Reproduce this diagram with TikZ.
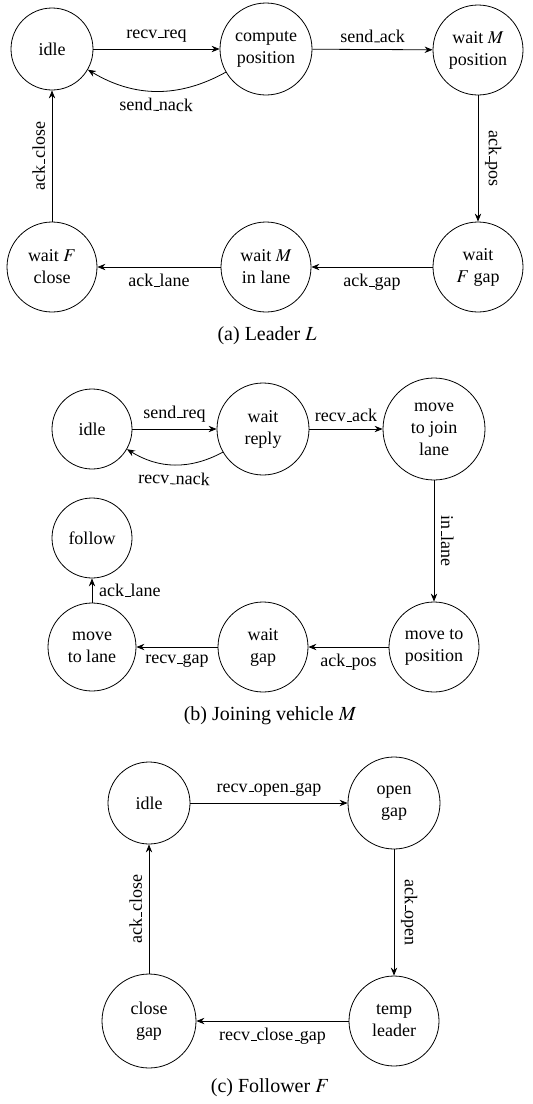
\documentclass[tikz,border=0pt]{standalone}
\usepackage{mathptmx}
\usepackage{fontspec}
\setmainfont{Liberation Serif}
\usetikzlibrary{arrows.meta, positioning}

% narrow underscore, as in plain LaTeX
\newcommand{\usc}{\leavevmode\kern.06em\vbox{\hrule width .3em}}

\begin{document}
\begin{tikzpicture}[x=0.5pt, y=-0.5pt, auto, >={Stealth[length=4pt, width=3.2pt]},
		state/.style={draw, circle, align=center, minimum size=45pt, inner sep=1pt, font=\fontsize{9}{11}\selectfont},
		msg/.style={font=\fontsize{9}{11}\selectfont},
		trans/.style={msg, sloped},
		caption/.style={font=\fontsize{10}{12}\selectfont}]
		\useasboundingbox (0,0) rectangle (532,1104);

		% Leader
		\begin{scope}
			\node (l_idle) at (52,49) [state, minimum size=41pt] {idle};
			\node (l_comp) at (266,49) [state, minimum size=46pt] {compute\\position};
			\node (l_wmpos) at (478,50) [state] {wait $M$\\position};
			\node (l_wfgap) at (478,267) [state] {wait\\$F$ gap};
			\node (l_wmlane) at (266,267) [state] {wait $M$\\in lane};
			\node (l_wfclose) at (52,267) [state] {wait $F$\\close};

			\path[->] (l_idle) edge node[trans] {recv\usc req} (l_comp)
				(l_comp) edge[bend left=30] node[trans, swap] {send\usc nack} (l_idle)
				(l_comp) edge node[trans] {send\usc ack} (l_wmpos)
				(l_wmpos) edge node[trans] {ack\usc pos} (l_wfgap)
				(l_wfgap) edge node[trans, swap] {ack\usc gap} (l_wmlane)
				(l_wmlane) edge node[trans, swap] {ack\usc lane} (l_wfclose)
				(l_wfclose) edge node[trans] {ack\usc close} (l_idle);

			\node (cap_a) at (267,336) [caption] {(a) Leader $L$};
		\end{scope}

		% Joining vehicle
		\begin{scope}
			\node (m_idle) at (92,429) [state, minimum size=40pt] {idle};
			\node (m_wrep) at (263,429) [state, minimum size=46pt] {wait\\reply};
			\node (m_mjoin) at (434,429) [state, minimum size=51pt] {move\\to join\\lane};
			\node (m_follow) at (92,538) [state, minimum size=40pt] {follow};
			\node (m_mlane) at (92,647) [state, minimum size=44pt] {move\\to lane};
			\node (m_wgap) at (263,647) [state] {wait\\gap};
			\node (m_mpos) at (434,647) [state] {move to\\position};

			\path[->] (m_idle) edge node[trans] {send\usc req} (m_wrep)
				(m_wrep) edge[bend left=30] node[trans, swap] {recv\usc nack} (m_idle)
				(m_wrep) edge node[trans] {recv\usc ack} (m_mjoin)
				(m_mjoin) edge node[trans] {in\usc lane} (m_mpos)
				(m_mpos) edge node[trans, swap] {ack\usc pos} (m_wgap)
				(m_wgap) edge node[trans, swap] {recv\usc gap} (m_mlane)
				(m_mlane) edge node[msg, right] {ack\usc lane} (m_follow);

			\node (cap_b) at (270,716) [caption] {(b) Joining vehicle $M$};
		\end{scope}

		% Follower
		\begin{scope}
			\node (f_idle) at (149,803) [state, minimum size=41pt] {idle};
			\node (f_open) at (394,803) [state, minimum size=46pt] {open\\gap};
			\node (f_temp) at (394,1021) [state] {temp\\leader};
			\node (f_close) at (149,1021) [state, minimum size=47pt] {close\\gap};

			\path[->] (f_idle) edge node[trans] {recv\usc open\usc gap} (f_open)
				(f_open) edge node[trans] {ack\usc open} (f_temp)
				(f_temp) edge node[trans, swap] {recv\usc close\usc gap} (f_close)
				(f_close) edge node[trans] {ack\usc close} (f_idle);

			\node (cap_c) at (270,1088) [caption] {(c) Follower $F$};
		\end{scope}

	\end{tikzpicture}
\end{document}
